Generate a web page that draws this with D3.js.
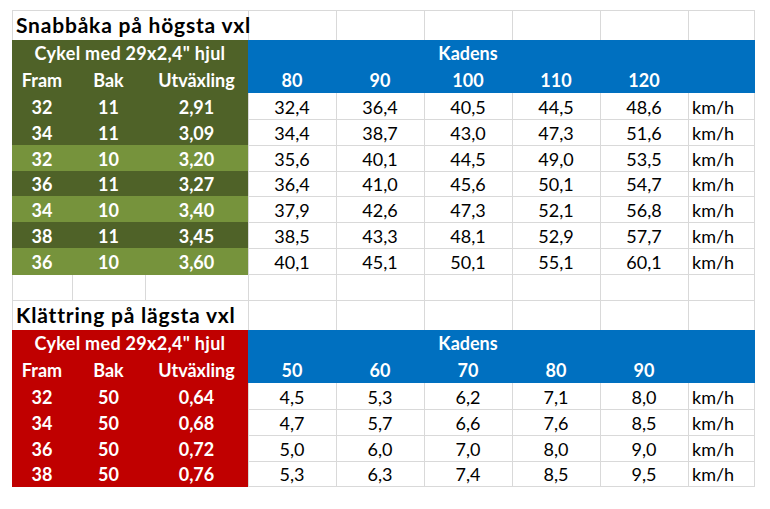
<!DOCTYPE html>
<html>
<head>
<meta charset="utf-8">
<script src="https://cdn.jsdelivr.net/npm/d3@7"></script>
<style>
    body { margin: 0; background: #fff; }
    svg text { font-family: Lato, "Noto Sans", sans-serif; }
</style>
</head>
<body>
<svg id="sheet" width="770" height="509"></svg>
<script>
// shared labels
const wheelLabel = 'Cykel med 29x2,4" hjul';
const gearHeaders = ['Fram', 'Bak', 'Utväxling'];
const cadenceLabel = 'Kadens';
const unit = 'km/h';

// top table: fastest gear
const fastTitle = 'Snabbåka på högsta vxl';
const fastCadence = [80, 90, 100, 110, 120];
const fastFront = [32, 34, 32, 36, 34, 38, 36];
const fastRear = [11, 11, 10, 11, 10, 11, 10];
const fastRatio = [2.91, 3.09, 3.20, 3.27, 3.40, 3.45, 3.60];
const fastSpeed = [
    [32.4, 36.4, 40.5, 44.5, 48.6],
    [34.4, 38.7, 43.0, 47.3, 51.6],
    [35.6, 40.1, 44.5, 49.0, 53.5],
    [36.4, 41.0, 45.6, 50.1, 54.7],
    [37.9, 42.6, 47.3, 52.1, 56.8],
    [38.5, 43.3, 48.1, 52.9, 57.7],
    [40.1, 45.1, 50.1, 55.1, 60.1]
];

// bottom table: lowest gear
const climbTitle = 'Klättring på lägsta vxl';
const climbCadence = [50, 60, 70, 80, 90];
const climbFront = [32, 34, 36, 38];
const climbRear = [50, 50, 50, 50];
const climbRatio = [0.64, 0.68, 0.72, 0.76];
const climbSpeed = [
    [4.5, 5.3, 6.2, 7.1, 8.0],
    [4.7, 5.7, 6.6, 7.6, 8.5],
    [5.0, 6.0, 7.0, 8.0, 9.0],
    [5.3, 6.3, 7.4, 8.5, 9.5]
];

const sv = d3.formatLocale({ decimal: ',', thousands: ' ', grouping: [3], currency: ['', ' kr'] });
const fmt1 = sv.format('.1f');
const fmt2 = sv.format('.2f');

const gridColor = '#d9d9d9';
const blue = '#0070c0';

const svg = d3.select('#sheet');
const gridLayer = svg.append('g');
const fillLayer = svg.append('g');
const textLayer = svg.append('g');

// column edges: three gear columns, five cadence columns, unit column
const left = 12, right = 754;
const gearX = d3.scaleOrdinal().domain([0, 1, 2, 3]).range([left, 72, 145, 248]);
const cadX = d3.scaleBand().domain(d3.range(5)).range([248, 688]);
const unitX = cadX.range()[1];
const edges = [0, 1, 2, 3].map(gearX).concat(d3.range(1, 5).map(i => cadX(i)), [unitX, right]);

function hLine(y) {
    gridLayer.append('line')
        .attr('x1', left).attr('x2', right + 1)
        .attr('y1', y + 0.5).attr('y2', y + 0.5)
        .attr('stroke', gridColor);
}

function vLines(xs, y1, y2) {
    gridLayer.selectAll(null)
        .data(xs)
        .enter().append('line')
        .attr('x1', d => Math.round(d) + 0.5).attr('x2', d => Math.round(d) + 0.5)
        .attr('y1', y1).attr('y2', y2 + 1)
        .attr('stroke', gridColor);
}

function cellText(x, y, str, opts) {
    textLayer.append('text')
        .attr('x', x).attr('y', y)
        .attr('text-anchor', opts.anchor || 'middle')
        .attr('font-size', opts.size || 18)
        .attr('font-weight', opts.bold ? 'bold' : 'normal')
        .attr('letter-spacing', opts.spacing || 0)
        .attr('fill', opts.color || '#000')
        .text(str);
}

function drawTable(top, t) {
    const titleBottom = top + 30;
    const head1 = titleBottom + 26;
    const head2 = head1 + 27;
    const n = t.speed.length;

    const y = d3.scaleBand()
        .domain(d3.range(n))
        .range([head2, head2 + n * 25.85]);
    const rowTop = i => Math.round(y(i));
    const rowBottom = i => Math.round(y(i) + y.bandwidth());
    const bottom = rowBottom(n - 1);

    // title row: text overflows the gear columns
    hLine(top);
    vLines([left].concat(edges.slice(3)), top, titleBottom);
    cellText(left + 4, titleBottom - 7, t.title, { anchor: 'start', size: 21, bold: true, spacing: 0.8 });

    // data row gridlines
    y.domain().forEach(i => hLine(rowBottom(i)));
    vLines(edges.slice(3), head2, bottom);

    // header fills
    fillLayer.append('rect')
        .attr('x', left).attr('y', titleBottom)
        .attr('width', gearX(3) - left).attr('height', head2 - titleBottom)
        .attr('fill', t.headFill);
    fillLayer.append('rect')
        .attr('x', gearX(3)).attr('y', titleBottom)
        .attr('width', right - gearX(3) + 1).attr('height', head2 - titleBottom)
        .attr('fill', blue);

    cellText((left + gearX(3)) / 2, head1 - 6, wheelLabel, { bold: true, color: '#fff', spacing: 0.3 });
    cellText((cadX(0) + unitX) / 2, head1 - 6, cadenceLabel, { bold: true, color: '#fff' });
    gearHeaders.forEach((h, i) => {
        cellText((gearX(i) + gearX(i + 1)) / 2, head2 - 6, h, { bold: true, color: '#fff' });
    });
    t.cadence.forEach((c, i) => {
        cellText(cadX(i) + cadX.bandwidth() / 2, head2 - 6, c, { bold: true, color: '#fff' });
    });

    // gear rows
    fillLayer.selectAll(null)
        .data(t.front)
        .enter().append('rect')
        .attr('x', left)
        .attr('y', (d, i) => rowTop(i))
        .attr('width', gearX(3) - left)
        .attr('height', (d, i) => rowBottom(i) - rowTop(i) + 1)
        .attr('fill', (d, i) => t.rowFill(i));

    t.speed.forEach((row, r) => {
        const base = rowBottom(r) - 5;
        const gear = [t.front[r], t.rear[r], fmt2(t.ratio[r])];
        gear.forEach((g, i) => {
            cellText((gearX(i) + gearX(i + 1)) / 2, base, g, { bold: true, color: '#fff' });
        });
        row.forEach((v, i) => {
            cellText(cadX(i) + cadX.bandwidth() / 2, base, fmt1(v), {});
        });
        cellText(unitX + 4, base, unit, { anchor: 'start' });
    });

    return bottom;
}

const fastBottom = drawTable(10, {
    title: fastTitle,
    cadence: fastCadence,
    front: fastFront,
    rear: fastRear,
    ratio: fastRatio,
    speed: fastSpeed,
    headFill: '#4f6228',
    rowFill: i => fastRear[i] === 11 ? '#4f6228' : '#76933c'
});

// empty spacer row between the tables
const gapBottom = fastBottom + 26;
vLines(edges, fastBottom, gapBottom);

drawTable(gapBottom, {
    title: climbTitle,
    cadence: climbCadence,
    front: climbFront,
    rear: climbRear,
    ratio: climbRatio,
    speed: climbSpeed,
    headFill: '#c00000',
    rowFill: () => '#c00000'
});
</script>
</body>
</html>
